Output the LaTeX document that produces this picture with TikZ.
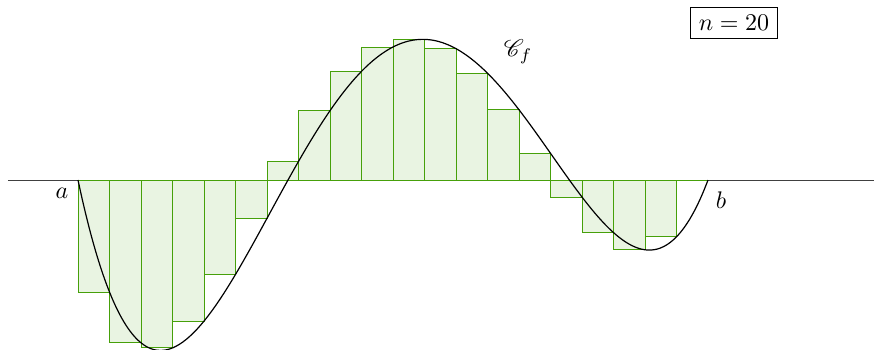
\documentclass[tikz,border=0pt]{standalone}
\usepackage{amsmath}
\usepackage{mathrsfs}
\definecolor{rectdraw}{RGB}{70,160,10}
\definecolor{rectfill}{RGB}{233,244,226}
\begin{document}
\begin{tikzpicture}[x=0.41667pt,y=0.41667pt,
  declare function={f(\x)=11402*(\x/630)*((\x/630)-1/3)*((\x/630)-0.78)*((\x/630)-1);},
  rectbox/.style={draw=rectdraw,fill=rectfill,line width=0.4pt},
  curve/.style={draw=black,line width=0.5pt},
  axisline/.style={draw=black!75,line width=0.4pt},
  lbl/.style={inner sep=0pt}]
\useasboundingbox (-78,-169) rectangle (796,180);
\coordinate (axL) at (-70,0);
\coordinate (axR) at (796,0);
\draw[axisline] (axL) -- (axR);
\foreach \i in {1,...,20}{
  \draw[rectbox] ({(\i-1)*31.5},0) rectangle ({\i*31.5},{f(\i*31.5)});
}
\draw[curve] plot[domain=0:630,samples=200,smooth] (\x,{f(\x)});
\node[lbl] (a) at (-16,-13) {$a$};
\node[lbl] (b) at (643,-20) {$b$};
\node[lbl] (cf) at (440,128) {$\mathscr{C}_f$};
\node[draw,line width=0.4pt] (n) at (656,157) {$n=20$};
\end{tikzpicture}
\end{document}
